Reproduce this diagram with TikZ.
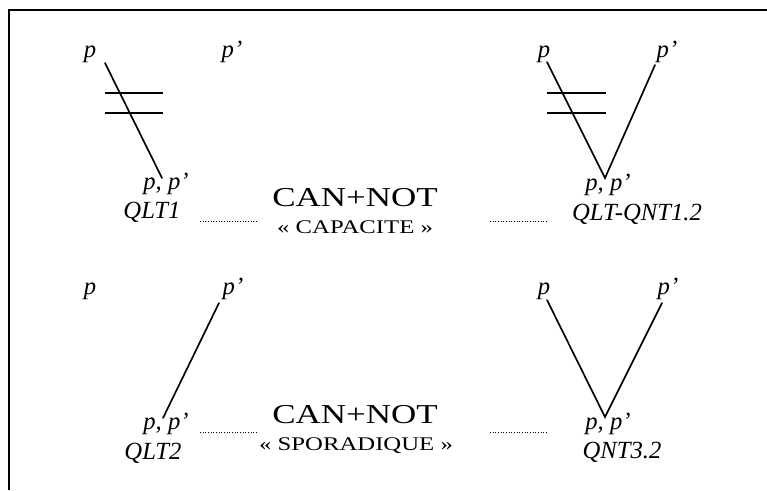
\documentclass[tikz,border=0pt]{standalone}
\usepackage{fontspec}
\setmainfont{Liberation Serif}
\newfontfamily\widefont[FakeStretch=1.28]{Liberation Serif}
\begin{document}
\begin{tikzpicture}[x=0.75pt,y=-0.75pt,
  lab/.style={font=\fontsize{18.5}{20}\selectfont\itshape, inner sep=0pt, anchor=base},
  big/.style={font=\widefont\fontsize{20.5}{22}\selectfont, inner sep=0pt, anchor=base},
  small/.style={font=\widefont\fontsize{14.5}{16}\selectfont, inner sep=0pt, anchor=base},
  ln/.style={line width=1.25pt, line cap=round},
  bar/.style={line width=1.25pt},
  dots/.style={line width=0.7pt, dash pattern=on 0.7pt off 1.3pt},
  frame/.style={line width=1.4pt}]
\useasboundingbox (0,0) rectangle (767,490);
\draw[frame] (9,490) -- (9,10) -- (767,10);
% ---------- top left: QLT1
\node[lab] (p1) at (90,57) {p};
\node[lab] (q1) at (232,57) {p’};
\node[lab] (pp1) at (166,189) {p, p’};
\node[lab] (n1) at (152,218) {QLT1};
\coordinate (a1) at (105,63);
\coordinate (b1) at (162,178);
\draw[ln] (a1) -- (b1);
\coordinate (h1l) at (105,93); \coordinate (h1r) at (163,93);
\coordinate (h2l) at (105,113); \coordinate (h2r) at (163,113);
\draw[bar] (h1l) -- (h1r);
\draw[bar] (h2l) -- (h2r);
% ---------- top centre
\node[big] (c1) at (355,206) {CAN+NOT};
\node[small] (s1) at (355,233) {« CAPACITE »};
\coordinate (d1a) at (200,221); \coordinate (d1b) at (258,221);
\coordinate (d2a) at (490,221); \coordinate (d2b) at (548,221);
\draw[dots] (d1a) -- (d1b);
\draw[dots] (d2a) -- (d2b);
% ---------- top right: QLT-QNT1.2
\node[lab] (p2) at (544,57) {p};
\node[lab] (q2) at (667,57) {p’};
\node[lab] (pp2) at (608,190) {p, p’};
\node[lab] (n2) at (637,220) {QLT-QNT1.2};
\coordinate (a2) at (547,62);
\coordinate (v2) at (605,178);
\coordinate (b2) at (655,65);
\draw[ln] (a2) -- (v2) -- (b2);
\coordinate (h3l) at (547,93); \coordinate (h3r) at (606,93);
\coordinate (h4l) at (547,113); \coordinate (h4r) at (606,113);
\draw[bar] (h3l) -- (h3r);
\draw[bar] (h4l) -- (h4r);
% ---------- bottom left: QLT2
\node[lab] (p3) at (90,294) {p};
\node[lab] (q3) at (233,294) {p’};
\node[lab] (pp3) at (166,429) {p, p’};
\node[lab] (n3) at (153,459) {QLT2};
\coordinate (a3) at (219,303);
\coordinate (b3) at (163,418);
\draw[ln] (a3) -- (b3);
% ---------- bottom centre
\node[big] (c2) at (355,423) {CAN+NOT};
\node[small] (s2) at (356,450) {« SPORADIQUE »};
\coordinate (d3a) at (200,432); \coordinate (d3b) at (258,432);
\coordinate (d4a) at (490,432); \coordinate (d4b) at (548,432);
\draw[dots] (d3a) -- (d3b);
\draw[dots] (d4a) -- (d4b);
% ---------- bottom right: QNT3.2
\node[lab] (p4) at (544,294) {p};
\node[lab] (q4) at (668,294) {p’};
\node[lab] (pp4) at (608,429) {p, p’};
\node[lab] (n4) at (622,458) {QNT3.2};
\coordinate (a4) at (547,300);
\coordinate (v4) at (605,417);
\coordinate (b4) at (662,303);
\draw[ln] (a4) -- (v4) -- (b4);
\end{tikzpicture}
\end{document}
